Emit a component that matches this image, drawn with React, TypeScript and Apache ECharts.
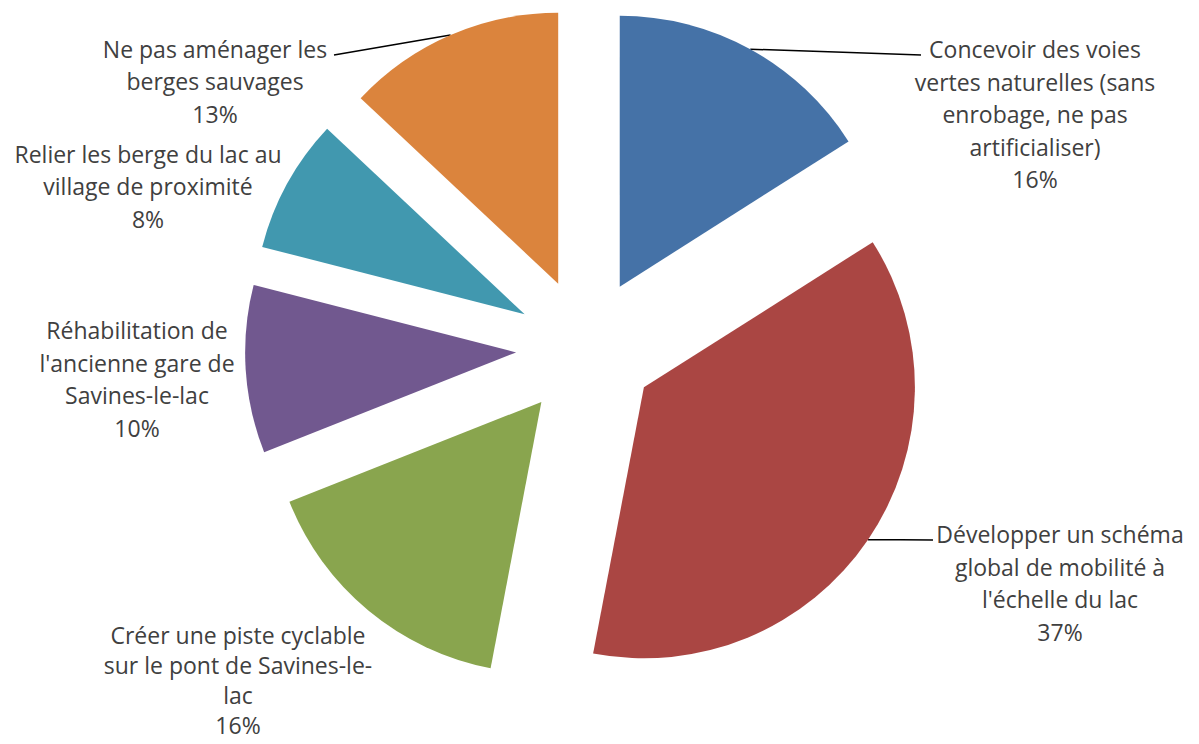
import React, { useEffect, useRef } from "react";
import * as echarts from "echarts";

const categories = [
  "Concevoir des voies\nvertes naturelles (sans\nenrobage, ne pas\nartificialiser)",
  "Développer un schéma\nglobal de mobilité à\nl'échelle du lac",
  "Créer une piste cyclable\nsur le pont de Savines-le-\nlac",
  "Réhabilitation de\nl'ancienne gare de\nSavines-le-lac",
  "Relier les berge du lac au\nvillage de proximité",
  "Ne pas aménager les\nberges sauvages",
];
const values = [16, 37, 16, 10, 8, 13];
const colors = ["#4572A7", "#AA4643", "#89A54E", "#71588F", "#4198AF", "#DB843D"];

// label centre positions (pixels)
const labelPos: [number, number][] = [
  [1035, 114],
  [1060, 583],
  [238, 680],
  [137, 379],
  [148, 186],
  [215, 81],
];
const labelLineHeights = [32.5, 32.5, 30, 32.5, 32.5, 32.5];
// leader line end points (null = no leader line)
const leaderEnd: ([number, number] | null)[] = [
  [921, 55],
  [933, 540],
  null,
  null,
  null,
  [334, 55],
];

const CX = 586;
const CY = 348;
const R = 271;
const EXPLODE = 70;

export default function App() {
  const ref = useRef<HTMLDivElement>(null);
  useEffect(() => {
    const chart = echarts.init(ref.current!, null, { renderer: "svg" });
    const total = values.reduce((a, b) => a + b, 0);
    let cum = 0;
    const series = values.map((v, i) => {
      const mid = ((cum + v / 2) / total) * Math.PI * 2;
      cum += v;
      const cx = CX + EXPLODE * Math.sin(mid);
      const cy = CY - EXPLODE * Math.cos(mid);
      return {
        type: "pie",
        center: [cx, cy],
        radius: R,
        startAngle: 90,
        clockwise: true,
        avoidLabelOverlap: false,
        emphasis: { disabled: true },
        label: {
          show: false,
          formatter: "{b}\n{c}%",
          fontFamily: "'Open Sans', sans-serif",
          fontSize: 23,
          lineHeight: labelLineHeights[i],
          color: "#404040",
          align: "center",
        },
        labelLine: {
          show: false,
          length: 10,
          length2: 10,
          lineStyle: { color: "#000000", width: 1.5 },
        },
        labelLayout: (params: any) => {
          if (params.dataIndex !== i) return {};
          const p = labelPos[i];
          const out: any = { x: p[0], y: p[1], align: "center", verticalAlign: "middle" };
          const end = leaderEnd[i];
          if (end && params.labelLinePoints) {
            const s = params.labelLinePoints[0];
            out.labelLinePoints = [
              [s[0], s[1]],
              [(s[0] + end[0]) / 2, (s[1] + end[1]) / 2],
              [end[0], end[1]],
            ];
          }
          return out;
        },
        data: categories.map((name, j) => ({
          name,
          value: values[j],
          itemStyle: { color: j === i ? colors[j] : "rgba(0,0,0,0)" },
          label: { show: j === i },
          labelLine: { show: j === i && !!leaderEnd[j] },
        })),
      };
    });
    chart.setOption({
      animation: false,
      backgroundColor: "#ffffff",
      series,
    });
    return () => chart.dispose();
  }, []);
  return (
    <div
      ref={ref}
      style={{ position: "fixed", left: 0, top: 0, width: 1199, height: 744 }}
    />
  );
}
